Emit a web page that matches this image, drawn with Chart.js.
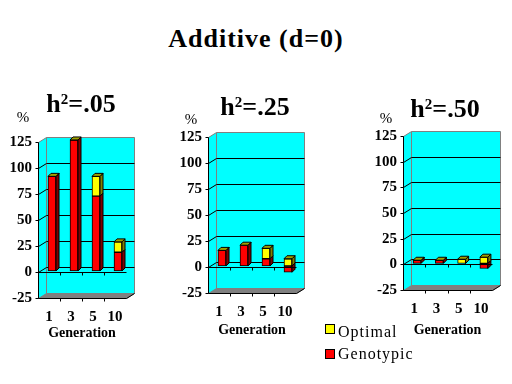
<!DOCTYPE html>
<html>
<head>
<meta charset="utf-8">
<script src="https://cdn.jsdelivr.net/npm/chart.js@4.4.1/dist/chart.umd.min.js"></script>
<style>
  body { margin: 0; background: #fff; }
  #page { position: relative; width: 512px; height: 384px; overflow: hidden; font-family: "Liberation Serif", serif; }
  canvas { position: absolute; }
  #title { position: absolute; left: 0; width: 512px; top: 26px; text-align: center; font-weight: bold; font-size: 26px; line-height: 26px; letter-spacing: 1px; }
  .box { position: absolute; left: 325px; width: 8px; height: 8px; border: 1px solid #000; }
  .key { position: absolute; left: 338px; font-size: 16px; line-height: 16px; letter-spacing: 1px; }
</style>
</head>
<body>
<div id="page">
  <div id="title">Additive (d=0)</div>
  <canvas id="c1"></canvas>
  <canvas id="c2"></canvas>
  <canvas id="c3"></canvas>
  <div class="box" style="top:324px;background:#ffff00"></div>
  <div class="key" style="top:324px">Optimal</div>
  <div class="box" style="top:349px;background:#ff0000"></div>
  <div class="key" style="top:346px">Genotypic</div>
</div>
<script>
const generations = ["1", "3", "5", "10"];
const percentTicks = [-25, 0, 25, 50, 75, 100, 125];
const heritability = [".05", ".25", ".50"];
const genotypic05 = [91, 126, 72, 18];
const optimal05 = [0, 0, 19, 10];
const genotypic25 = [15, 20, 7, -6];
const optimal25 = [0, 0, 10, 7];
const genotypic50 = [3, 3, 0, -5];
const optimal50 = [0, 0, 4, 6];

const serif = "'Liberation Serif', 'Times New Roman', serif";
Chart.defaults.font.family = serif;
const DX = 8, DY = 5;   // depth of the box
const BX = 3, BY = 3;   // depth of a bar

function poly(ctx, pts, fill) {
  ctx.beginPath();
  ctx.moveTo(pts[0][0], pts[0][1]);
  for (let k = 1; k < pts.length; k++) ctx.lineTo(pts[k][0], pts[k][1]);
  ctx.closePath();
  if (fill) { ctx.fillStyle = fill; ctx.fill(); }
  ctx.stroke();
}

function line(ctx, pts) {
  ctx.beginPath();
  ctx.moveTo(pts[0][0], pts[0][1]);
  for (let k = 1; k < pts.length; k++) ctx.lineTo(pts[k][0], pts[k][1]);
  ctx.stroke();
}

function boundaries(x) {
  let out = [];
  for (let k = 1; k < generations.length; k++) {
    out.push(Math.round((x.getPixelForTick(k - 1) + x.getPixelForTick(k)) / 2) + 0.5);
  }
  return out;
}

const box3d = {
  id: "box3d",
  beforeDraw(chart) {
    const { ctx, chartArea: a, scales: { x, y } } = chart;
    const L = Math.round(a.left) + 0.5, R = Math.round(a.right) + 0.5;
    const T = Math.round(a.top) + 0.5, B = Math.round(a.bottom) + 0.5;
    ctx.save();
    ctx.lineWidth = 1;
    // walls
    ctx.strokeStyle = "#808080";
    poly(ctx, [[L, T], [L + DX, T - DY], [R + DX, T - DY], [R + DX, B - DY], [L, B]], "#00ffff");
    line(ctx, [[L + DX, T - DY], [L + DX, B - DY]]);
    // floor
    poly(ctx, [[L, B], [L + DX, B - DY], [R + DX, B - DY], [R, B]], "#808080");
    // gridlines on back and side wall
    ctx.strokeStyle = "#000";
    y.ticks.forEach(t => {
      if (t.value <= y.min || t.value >= y.max) return;
      const py = Math.round(y.getPixelForValue(t.value)) + 0.5;
      line(ctx, [[L, py], [L + DX, py - DY], [R + DX, py - DY]]);
    });
    // front axis and floor edges
    line(ctx, [[L, T], [L, B], [R, B], [R + DX, B - DY]]);
    y.ticks.forEach(t => {
      const py = Math.round(y.getPixelForValue(t.value)) + 0.5;
      line(ctx, [[L - 3, py], [L, py]]);
    });
    boundaries(x).forEach(bx => line(ctx, [[bx, B], [bx, B + 3]]));
    ctx.restore();
  },
  beforeDatasetsDraw(chart) {
    chart.ctx.save();
    chart.ctx.translate(3, -1);
  },
  afterDatasetsDraw(chart) {
    const { ctx, chartArea: a, scales: { x, y } } = chart;
    ctx.lineWidth = 1;
    ctx.strokeStyle = "#000";
    const last = chart.data.datasets.length - 1;
    chart.data.datasets.forEach((ds, i) => {
      chart.getDatasetMeta(i).data.forEach(bar => {
        const l = bar.x - bar.width / 2, r = bar.x + bar.width / 2;
        const top = Math.min(bar.y, bar.base), bot = Math.max(bar.y, bar.base);
        poly(ctx, [[r, top], [r + BX, top - BY], [r + BX, bot - BY], [r, bot]], ds.sideColor);
        if (i === last) poly(ctx, [[l, top], [l + BX, top - BY], [r + BX, top - BY], [r, top]], ds.topColor);
      });
    });
    ctx.restore();
    // category axis at zero, in front of the bars
    const L = Math.round(a.left) + 0.5, R = Math.round(a.right) + 0.5;
    const y0 = Math.round(y.getPixelForValue(0)) + 0.5;
    ctx.save();
    ctx.lineWidth = 1;
    ctx.strokeStyle = "#000";
    line(ctx, [[L, y0], [R, y0]]);
    boundaries(x).forEach(bx => line(ctx, [[bx, y0], [bx, y0 + 3]]));
    ctx.restore();
  }
};

const headings = {
  id: "headings",
  afterDraw(chart, args, o) {
    const ctx = chart.ctx;
    ctx.save();
    ctx.fillStyle = "#000";
    ctx.textBaseline = "alphabetic";
    const big = "bold 26px " + serif, small = "bold 15px " + serif;
    ctx.font = big;
    const w1 = ctx.measureText("h").width, w3 = ctx.measureText("=" + o.h).width;
    ctx.font = small;
    const w2 = ctx.measureText("2").width;
    let x = o.x - (w1 + w2 + w3) / 2;
    ctx.font = big; ctx.fillText("h", x, o.y); x += w1;
    ctx.font = small; ctx.fillText("2", x, o.y - 8); x += w2;
    ctx.font = big; ctx.fillText("=" + o.h, x, o.y);
    ctx.font = "15px " + serif;
    ctx.textAlign = "center";
    ctx.fillText("%", o.px, o.py);
    ctx.restore();
  }
};

const panels = [
  { id: "c1", box: { left: 0, top: 80, width: 170, height: 270 }, area: { l: 38, t: 142, r: 126, b: 298 },
    head: { x: 81, y: 112 }, pct: { x: 23, y: 122 }, genY: 333, h: heritability[0], genotypic: genotypic05, optimal: optimal05 },
  { id: "c2", box: { left: 170, top: 90, width: 150, height: 260 }, area: { l: 208, t: 137, r: 296, b: 293 },
    head: { x: 255, y: 115 }, pct: { x: 191, y: 124 }, genY: 330, h: heritability[1], genotypic: genotypic25, optimal: optimal25 },
  { id: "c3", box: { left: 320, top: 90, width: 192, height: 260 }, area: { l: 403, t: 136, r: 492, b: 290 },
    head: { x: 445, y: 117 }, pct: { x: 386, y: 123 }, genY: 330, h: heritability[2], genotypic: genotypic50, optimal: optimal50 }
];

function makePanel(p) {
  const cv = document.getElementById(p.id);
  const c = p.box, a = p.area;
  cv.width = c.width;
  cv.height = c.height;
  cv.style.left = c.left + "px";
  cv.style.top = c.top + "px";
  const yW = a.l - c.left;
  const xH = p.genY + 8.4 - a.b;
  const tickFont = { family: serif, size: 15, weight: "bold" };
  new Chart(cv, {
    type: "bar",
    data: {
      labels: generations,
      datasets: [
        { label: "Genotypic", data: p.genotypic, backgroundColor: "#ff0000", sideColor: "#800000", topColor: "#a00000", clip: false },
        { label: "Optimal", data: p.optimal, backgroundColor: "#ffff00", sideColor: "#808000", topColor: "#a0a000", clip: false }
      ]
    },
    options: {
      responsive: false,
      animation: false,
      layout: { padding: { left: 0, top: a.t - c.top, right: c.left + c.width - a.r, bottom: c.top + c.height - a.b - xH } },
      datasets: { bar: { borderColor: "#000", borderWidth: 1, borderSkipped: false, barThickness: 8 } },
      plugins: {
        legend: { display: false },
        tooltip: { enabled: false },
        headings: { x: p.head.x - c.left, y: p.head.y - c.top, px: p.pct.x - c.left, py: p.pct.y - c.top, h: p.h }
      },
      scales: {
        x: {
          stacked: true,
          grid: { display: false, drawTicks: false },
          border: { display: false },
          ticks: { color: "#000", font: tickFont, padding: 10 },
          title: { display: true, text: "Generation", color: "#000", font: { family: serif, size: 14, weight: "bold" }, padding: 0 },
          afterFit: s => { s.height = xH; }
        },
        y: {
          stacked: true,
          min: -25,
          max: 125,
          grid: { display: false, drawTicks: false },
          border: { display: false },
          afterBuildTicks: s => { s.ticks = percentTicks.map(v => ({ value: v })); },
          ticks: { color: "#000", font: tickFont, padding: 6 },
          afterFit: s => { s.width = yW; }
        }
      }
    },
    plugins: [box3d, headings]
  });
}

panels.forEach(makePanel);
</script>
</body>
</html>
